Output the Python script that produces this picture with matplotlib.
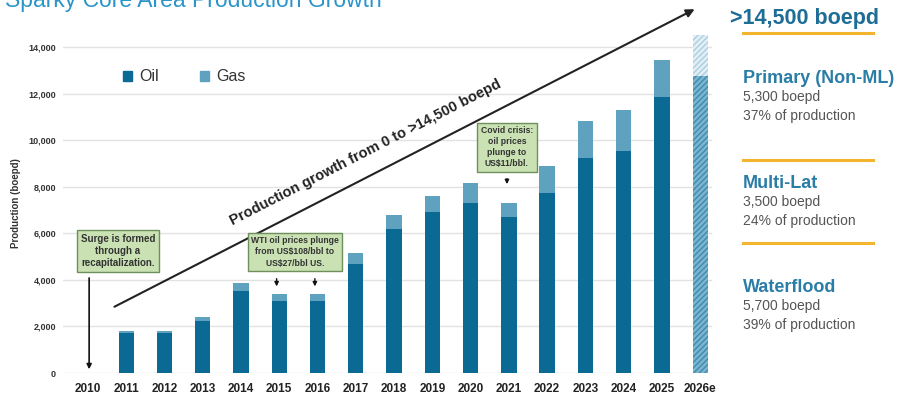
import numpy as np
import matplotlib
matplotlib.use("Agg")
import matplotlib.pyplot as plt
from matplotlib.patches import Patch
from matplotlib.lines import Line2D

plt.rcParams['font.family'] = ['Liberation Sans', 'DejaVu Sans']

years = ['2010', '2011', '2012', '2013', '2014', '2015', '2016', '2017', '2018',
         '2019', '2020', '2021', '2022', '2023', '2024', '2025', '2026e']
oil = [0, 1700, 1700, 2250, 3500, 3100, 3100, 4700, 6200, 6900, 7300, 6700,
       7750, 9250, 9550, 11850, 0]
gas = [0, 100, 100, 150, 350, 300, 300, 450, 600, 700, 850, 600,
       1150, 1550, 1750, 1600, 0]
forecast_base = 12750
forecast_total = 14500

panel_heads = ['Primary (Non-ML)', 'Multi-Lat', 'Waterflood']
panel_boepd = ['5,300 boepd', '3,500 boepd', '5,700 boepd']
panel_share = ['37% of production', '24% of production', '39% of production']

oil_c = '#0b6a94'
gas_c = '#5fa2c0'
box_fc = '#c9e1b3'
box_ec = '#6f8f5c'

fig = plt.figure(figsize=(8.97, 3.98), dpi=100)
ax = fig.add_axes([0.0702, 0.0628, 0.7236, 0.8543])

x = np.arange(len(years))
w = 0.4
ax.bar(x[:-1], oil[:-1], w, color=oil_c, zorder=3)
ax.bar(x[:-1], gas[:-1], w, bottom=oil[:-1], color=gas_c, zorder=3)
# 2026e estimate, hatched
ax.bar(x[-1], forecast_base, w, color='#7db5cf', edgecolor='#3d8bb0',
       hatch='//////', lw=0, zorder=3)
ax.bar(x[-1], forecast_total - forecast_base, w, bottom=forecast_base,
       color='#e3eff5', edgecolor='#a9cfe1', hatch='//////', lw=0, zorder=3)

ax.set_xlim(-0.654, 16.31)
ax.set_ylim(0, 14600)
ax.set_yticks(np.arange(0, 14001, 2000))
ax.set_yticklabels([f'{v:,}' for v in range(0, 14001, 2000)],
                   fontsize=6.5, fontweight='bold', color='#333333')
ax.set_xticks(x)
ax.set_xticklabels(years, fontsize=8.5, fontweight='bold', color='#222222')
ax.tick_params(length=0, pad=7)
ax.tick_params(axis='y', pad=5)
for v in range(0, 14001, 2000):
    ax.axhline(v, color='#e2e2e2', lw=1, zorder=0)
for s in ['top', 'right', 'left', 'bottom']:
    ax.spines[s].set_visible(False)
ax.set_ylabel('Production (boepd)', fontsize=7, fontweight='bold',
              color='#333333', labelpad=5)

leg = ax.legend(handles=[Patch(color=oil_c, label='Oil'), Patch(color=gas_c, label='Gas')],
                loc='upper left', bbox_to_anchor=(0.07, 0.935), ncol=2, frameon=False,
                fontsize=11.5, handlelength=0.6, handleheight=0.6, handletextpad=0.4,
                columnspacing=2.6)
for t in leg.get_texts():
    t.set_color('#333333')

# growth arrow
ax.annotate('', xy=(15.92, 15675), xytext=(0.627, 2791),
            arrowprops=dict(arrowstyle='-|>', color='#222222', lw=1.5,
                            mutation_scale=12),
            annotation_clip=False, zorder=5)
ax.text(7.25, 9450, 'Production growth from 0 to >14,500 boepd', rotation=27.2,
        ha='center', va='center', fontsize=10.5, fontweight='bold',
        color='#222222', rotation_mode='anchor', zorder=5)

bbox = dict(boxstyle='square,pad=0.4', fc=box_fc, ec=box_ec, lw=1)
ax.text(0.78, 5240, 'Surge is formed\nthrough a\nrecapitalization.', ha='center',
        va='center', fontsize=7, fontweight='bold', color='#333333',
        bbox=bbox, linespacing=1.25, zorder=6)
ax.annotate('', xy=(0.03, 40), xytext=(0.03, 4200),
            arrowprops=dict(arrowstyle='-|>', color='#111111', lw=1.2,
                            mutation_scale=7), zorder=6)

ax.text(5.41, 5200, 'WTI oil prices plunge\nfrom US$108/bbl to\nUS$27/bbl US.',
        ha='center', va='center', fontsize=6.2, fontweight='bold', color='#333333',
        bbox=bbox, linespacing=1.3, zorder=6)
for xi in [5, 6]:
    ax.annotate('', xy=(xi - 0.07, 3600), xytext=(xi - 0.07, 4170),
                arrowprops=dict(arrowstyle='-|>', color='#111111', lw=1,
                                mutation_scale=6), zorder=6)

ax.text(10.95, 9700, 'Covid crisis:\noil prices\nplunge to\nUS$11/bbl.',
        ha='center', va='center', fontsize=6.2, fontweight='bold', color='#333333',
        bbox=bbox, linespacing=1.3, zorder=6)
ax.annotate('', xy=(10.95, 7990), xytext=(10.95, 8460),
            arrowprops=dict(arrowstyle='-|>', color='#111111', lw=1,
                            mutation_scale=6), zorder=6)

# title, cut at the top as in the source
fig.text(0.006, 1 - 7 / 398, 'Sparky Core Area Production Growth', fontsize=16.5,
         color='#2b95c9', va='baseline', ha='left')

# right panel
def fy(px):
    return 1 - px / 398

fig.text(730 / 897, fy(24), '>14,500 boepd', fontsize=15.5, fontweight='bold',
         color='#1d6d96', va='baseline')
for ly in [33, 160, 243]:
    fig.add_artist(Line2D([743 / 897, 873 / 897], [fy(ly), fy(ly)],
                          color='#f4b52e', lw=2.2, transform=fig.transFigure))
heads_y = [83, 188, 292]
for head, bo, sh, hy in zip(panel_heads, panel_boepd, panel_share, heads_y):
    fig.text(743 / 897, fy(hy), head, fontsize=13, fontweight='bold',
             color='#2a7da6', va='baseline')
    fig.text(743 / 897, fy(hy + 18), bo, fontsize=10, color='#555555', va='baseline')
    fig.text(743 / 897, fy(hy + 37), sh, fontsize=10, color='#555555', va='baseline')

fig.savefig('out.png', dpi=100)
